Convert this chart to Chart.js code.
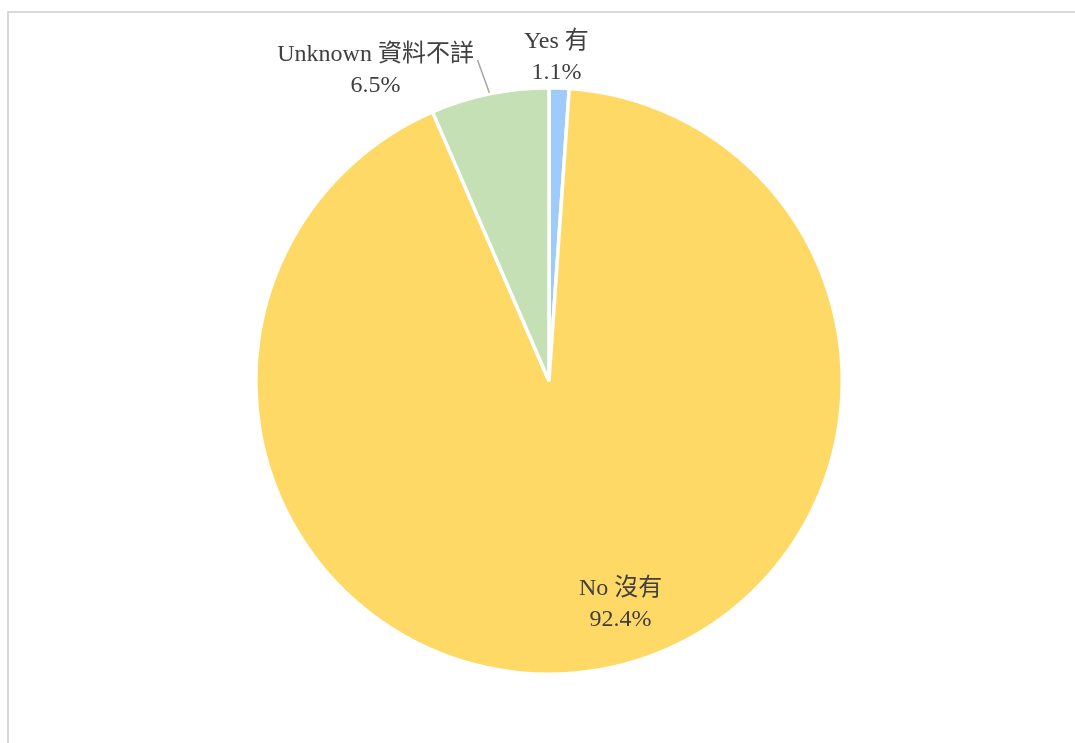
<!DOCTYPE html>
<html>
<head>
<meta charset="utf-8">
<script src="https://cdn.jsdelivr.net/npm/chart.js@4"></script>
<style>
  html, body { margin: 0; padding: 0; background: #fff; }
  #wrap { position: relative; width: 1075px; height: 743px; overflow: hidden; }
  #frame { position: absolute; left: 7px; top: 11px; width: 1100px; height: 800px;
           border-left: 2px solid #d9d9d9; border-top: 2px solid #d9d9d9; box-sizing: border-box; }
  canvas { position: absolute; left: 0; top: 0; }
</style>
</head>
<body>
<div id="wrap">
  <div id="frame"></div>
  <canvas id="myChart" width="1075" height="743"></canvas>
</div>
<script>
var labels = ['Yes 有', 'No 沒有', 'Unknown 資料不詳'];
var shares = [1.1, 92.4, 6.5];
var colours = ['#9ecbfa', '#ffd966', '#c5e0b4'];

// where each data label sits: angle (deg from 12 o'clock) and distance as a share of the radius
var labelPlace = [
    { angle: 1.3, dist: 1.113, leader: false },
    { angle: 162, dist: 0.79, leader: false },
    { angle: -29, dist: 1.22, leader: true }
];

var labelPlugin = {
    id: 'sliceLabels',
    afterDatasetsDraw: function (chart) {
        var ctx = chart.ctx;
        var arcs = chart.getDatasetMeta(0).data;
        ctx.save();
        ctx.font = '24px "Liberation Serif", "Noto Sans CJK TC", serif';
        ctx.fillStyle = '#404040';
        ctx.textAlign = 'center';
        ctx.textBaseline = 'middle';
        arcs.forEach(function (arc, i) {
            var p = labelPlace[i];
            var a = p.angle * Math.PI / 180;
            var r = arc.outerRadius;
            var cx = arc.x + Math.sin(a) * r * p.dist;
            var cy = arc.y - Math.cos(a) * r * p.dist;
            ctx.fillText(labels[i], cx, cy - 13);
            ctx.fillText(shares[i].toFixed(1) + '%', cx, cy + 18);
            if (p.leader) {
                var mid = (arc.startAngle + arc.endAngle) / 2;
                ctx.strokeStyle = '#a6a6a6';
                ctx.lineWidth = 1.5;
                ctx.beginPath();
                ctx.moveTo(arc.x + Math.cos(mid) * (r + 1), arc.y + Math.sin(mid) * (r + 1));
                ctx.lineTo(cx + 102, cy - 8);
                ctx.stroke();
            }
        });
        ctx.restore();
    }
};

var ctx = document.getElementById('myChart').getContext('2d');
var myChart = new Chart(ctx, {
    type: 'pie',
    data: {
        labels: labels,
        datasets: [{
            data: shares,
            backgroundColor: colours,
            borderColor: '#ffffff',
            borderWidth: 3.5
        }]
    },
    options: {
        responsive: false,
        animation: false,
        layout: {
            padding: { left: 23, right: 0, top: 86, bottom: 67 }
        },
        plugins: {
            legend: { display: false },
            tooltip: { enabled: false }
        }
    },
    plugins: [labelPlugin]
});
</script>
</body>
</html>
